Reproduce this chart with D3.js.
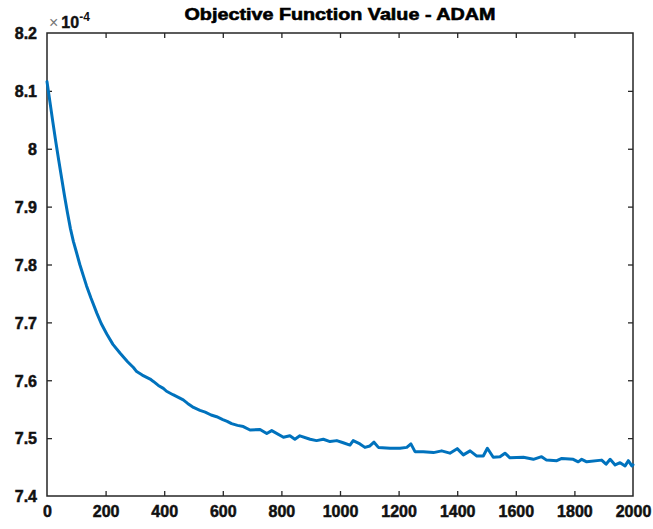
<!DOCTYPE html>
<html>
<head>
<meta charset="utf-8">
<script src="https://cdn.jsdelivr.net/npm/d3@7"></script>
<style>
  html, body { margin: 0; padding: 0; background: #fff; }
  svg { display: block; }
</style>
</head>
<body>
<div id="chart"></div>
<script>
// ---- data (objective values shown in units of 1e-4) ----
const chartTitle = "Objective Function Value - ADAM";
const xTicks = [0, 200, 400, 600, 800, 1000, 1200, 1400, 1600, 1800, 2000];
const yTicks = [7.4, 7.5, 7.6, 7.7, 7.8, 7.9, 8.0, 8.1, 8.2];
const iterations = [
  0, 10, 20, 30, 40, 50, 60, 70, 80, 90, 100, 112, 125, 135, 150, 170, 185, 204, 225, 249,
  275, 295, 306, 325, 352, 363, 380, 397, 408, 430, 450, 465, 480, 500, 522, 540, 560, 579,
  600, 615, 630, 650, 670, 693,
  727, 750, 767, 807, 829, 846, 863, 898, 920, 943, 966, 989, 1011, 1034, 1045, 1068, 1085,
  1102, 1116, 1131, 1171, 1205, 1228, 1242, 1256, 1284, 1319, 1347, 1375, 1400, 1421, 1444,
  1467, 1489, 1503, 1523, 1546, 1563, 1580, 1626, 1660, 1688, 1705, 1740, 1757, 1796, 1813,
  1825, 1842, 1893, 1908, 1922, 1939, 1956, 1973, 1984, 1996, 2000
];
const objective = [
  8.116, 8.081, 8.046, 8.012, 7.980, 7.949, 7.918, 7.889, 7.862, 7.840, 7.822, 7.800, 7.779,
  7.763, 7.742, 7.716, 7.698, 7.680, 7.662, 7.647, 7.632, 7.622, 7.615, 7.609, 7.602, 7.598,
  7.591, 7.586, 7.581, 7.575, 7.570, 7.566, 7.560, 7.553, 7.548, 7.545, 7.540, 7.537,
  7.532, 7.529, 7.525, 7.522, 7.520, 7.514,
  7.515, 7.508, 7.513, 7.5015, 7.504, 7.498, 7.504, 7.498, 7.4957, 7.498, 7.494, 7.4957,
  7.492, 7.488, 7.4957, 7.490, 7.484, 7.4865, 7.493, 7.484, 7.4825, 7.4825, 7.484, 7.490,
  7.4766, 7.4766, 7.475, 7.478, 7.474, 7.4818, 7.471, 7.478, 7.469, 7.469, 7.4825, 7.467,
  7.468, 7.474, 7.466, 7.467, 7.4634, 7.468, 7.462, 7.461, 7.465, 7.4634, 7.459, 7.4634,
  7.459, 7.462, 7.455, 7.4634, 7.4536, 7.4576, 7.452, 7.461, 7.452, 7.454
];

// ---- layout ----
const W = 653, H = 529;
const plot = { left: 47, right: 633, top: 33, bottom: 496 };
const axisColor = "#262626";
const lineColor = "#0072BD";
const font = "'Liberation Sans', Arial, sans-serif";

const svg = d3.select("#chart").append("svg")
  .attr("width", W).attr("height", H)
  .style("font-family", font);

const x = d3.scaleLinear().domain([0, 2000]).range([plot.left, plot.right]);
const y = d3.scaleLinear().domain([7.4, 8.2]).range([plot.bottom, plot.top]);

const fmt = d => String(+d.toFixed(1));

// bottom axis (labels)
const gB = svg.append("g").attr("transform", `translate(0,${plot.bottom})`)
  .call(d3.axisBottom(x).tickValues(xTicks).tickSize(-5).tickPadding(10).tickFormat(d => d));
// top axis (ticks only)
const gT = svg.append("g").attr("transform", `translate(0,${plot.top})`)
  .call(d3.axisTop(x).tickValues(xTicks).tickSize(-5).tickFormat(""));
// left axis (labels)
const gL = svg.append("g").attr("transform", `translate(${plot.left},0)`)
  .call(d3.axisLeft(y).tickValues(yTicks).tickSize(-5).tickPadding(10).tickFormat(fmt));
// right axis (ticks only)
const gR = svg.append("g").attr("transform", `translate(${plot.right},0)`)
  .call(d3.axisRight(y).tickValues(yTicks).tickSize(-5).tickFormat(""));

[gB, gT, gL, gR].forEach(g => {
  g.select(".domain").remove();
  g.selectAll(".tick line").attr("stroke", axisColor).attr("stroke-width", 1.3);
  g.selectAll(".tick text")
    .attr("fill", "#111")
    .attr("stroke", "#111")
    .attr("stroke-width", 0.5)
    .style("font-family", font)
    .style("font-size", "16px")
    .style("font-weight", "bold");
});
// remove the end ticks that coincide with the frame
gB.selectAll(".tick line").filter(d => d === 0 || d === 2000).remove();
gT.selectAll(".tick line").filter(d => d === 0 || d === 2000).remove();
gL.selectAll(".tick line").filter(d => d === 7.4 || d === 8.2).remove();
gR.selectAll(".tick line").filter(d => d === 7.4 || d === 8.2).remove();
gB.selectAll(".tick text").attr("dy", "0.71em");
gL.selectAll(".tick text").attr("dy", "0.36em");

// frame
svg.append("rect")
  .attr("x", plot.left).attr("y", plot.top)
  .attr("width", plot.right - plot.left).attr("height", plot.bottom - plot.top)
  .attr("fill", "none").attr("stroke", axisColor).attr("stroke-width", 1.5);

// line
const line = d3.line()
  .x((d, i) => x(iterations[i]))
  .y(d => y(d))
  .curve(d3.curveLinear);

svg.append("path")
  .datum(objective)
  .attr("d", line)
  .attr("fill", "none")
  .attr("stroke", lineColor)
  .attr("stroke-width", 3)
  .attr("stroke-linejoin", "round")
  .attr("stroke-linecap", "round");

// exponent label
const expG = svg.append("text")
  .attr("x", plot.left + 2).attr("y", plot.top - 5)
  .style("font-family", font);
expG.append("tspan").text("×").attr("fill", "#777").style("font-size", "16px");
expG.append("tspan").text("10").attr("fill", "#111").attr("stroke", "#111").attr("stroke-width", 0.4)
  .style("font-size", "16px").style("font-weight", "bold").attr("dx", 3);
expG.append("tspan").text("-4").attr("fill", "#111").style("font-size", "12px").style("font-weight", "bold").attr("dy", -7);

// title
svg.append("text")
  .attr("x", (plot.left + plot.right) / 2)
  .attr("y", 20)
  .attr("text-anchor", "middle")
  .attr("fill", "#000")
  .attr("stroke", "#000")
  .attr("stroke-width", 0.6)
  .style("font-family", font)
  .style("font-size", "17px")
  .style("font-weight", "bold")
  .attr("textLength", 311)
  .attr("lengthAdjust", "spacingAndGlyphs")
  .text(chartTitle);
</script>
</body>
</html>
